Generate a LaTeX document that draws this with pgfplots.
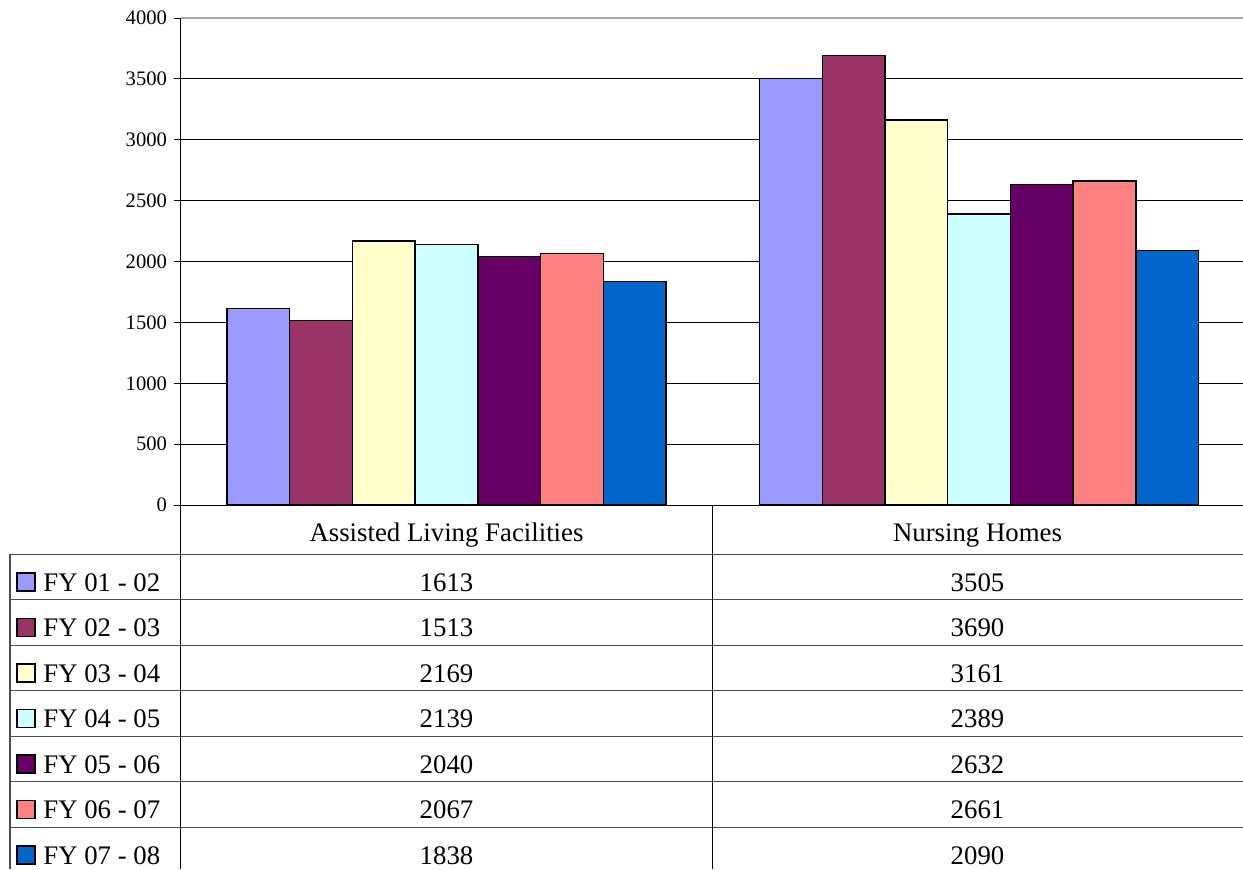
\documentclass[border=0pt]{standalone}
\usepackage{fontspec}
\setmainfont{Liberation Serif}
\usepackage{pgfplots}
\pgfplotsset{compat=1.18}
\definecolor{c1}{HTML}{9999FF}
\definecolor{c2}{HTML}{993366}
\definecolor{c3}{HTML}{FFFFCC}
\definecolor{c4}{HTML}{CCFFFF}
\definecolor{c5}{HTML}{660066}
\definecolor{c6}{HTML}{FF8080}
\definecolor{c7}{HTML}{0066CC}
\colorlet{tbl}{black!70}
\begin{document}
\begin{tikzpicture}
\useasboundingbox (-90.5pt,-182pt) rectangle (531pt,252.5pt);
\begin{axis}[
  scale only axis, width=531pt, height=243.5pt,
  xmin=0, xmax=2, ymin=0, ymax=4000,
  axis lines*=left,
  axis line style={black, line width=0.5pt},
  xtick=\empty,
  ytick distance=500,
  tick align=outside, major tick length=3.5pt,
  tick style={black, line width=0.5pt},
  ymajorgrids, grid style={black, line width=0.5pt},
  yticklabel style={font=\fontsize{10.3}{12}\selectfont, /pgf/number format/1000 sep={}},
  /pgf/number format/assume math mode=true,
  scaled y ticks=false,
  clip=false,
  every axis plot/.append style={ybar, bar width=0.1181, bar shift=0pt, draw=black, line width=0.7pt},
]
\addplot[fill=c1] coordinates {(0.1457,1613) (1.1487,3505)};
\addplot[fill=c2] coordinates {(0.2638,1513) (1.2668,3690)};
\addplot[fill=c3] coordinates {(0.3819,2169) (1.3849,3161)};
\addplot[fill=c4] coordinates {(0.5000,2139) (1.5030,2389)};
\addplot[fill=c5] coordinates {(0.6181,2040) (1.6211,2632)};
\addplot[fill=c6] coordinates {(0.7362,2067) (1.7392,2661)};
\addplot[fill=c7] coordinates {(0.8543,1838) (1.8573,2090)};
\end{axis}
% top gridline lighter
\draw[gray!70, line width=0.6pt] (0,243.5pt) -- (531pt,243.5pt);
% data table
\foreach \y in {-24.65,-47.4,-70.15,-92.9,-115.65,-138.4,-161.15}
  \draw[tbl, line width=0.6pt] (-85.5pt,\y pt) -- (531pt,\y pt);
\draw[tbl, line width=0.6pt] (-85.5pt,-24.65pt) -- (-85.5pt,-182pt);
\draw[black, line width=0.5pt] (0,0) -- (0,-182pt);
\draw[black, line width=0.5pt] (265.5pt,0) -- (265.5pt,-182pt);
\begin{scope}[every node/.style={font=\fontsize{13.4}{15}\selectfont, inner sep=0pt, anchor=base}]
\node at (132.75pt,-18pt) {Assisted Living Facilities};
\node at (398.25pt,-18pt) {Nursing Homes};
\foreach \lab/\col/\a/\b [count=\i from 0] in {
  FY 01 - 02/c1/1613/3505,
  FY 02 - 03/c2/1513/3690,
  FY 03 - 04/c3/2169/3161,
  FY 04 - 05/c4/2139/2389,
  FY 05 - 06/c5/2040/2632,
  FY 06 - 07/c6/2067/2661,
  FY 07 - 08/c7/1838/2090}{
  \pgfmathsetmacro{\yb}{-24.65-22.75*(\i+1)+4.3}
  \draw[fill=\col, draw=black, line width=0.7pt] (-82pt,\yb pt+0.2pt) rectangle ++(9pt,9pt);
  \node[anchor=base west] at (-69pt,\yb pt) {\lab};
  \node at (132.75pt,\yb pt) {\a};
  \node at (398.25pt,\yb pt) {\b};
}
\end{scope}
\end{tikzpicture}
\end{document}
